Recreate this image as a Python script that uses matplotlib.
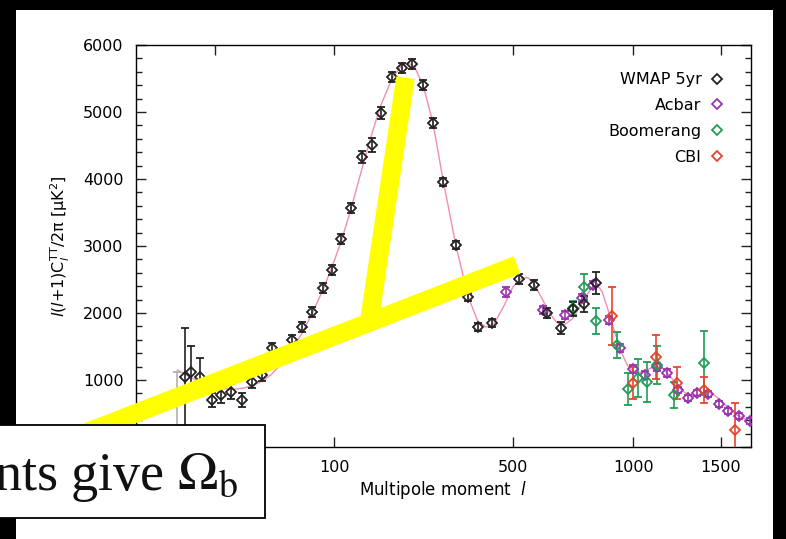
import numpy as np
import matplotlib
matplotlib.use('Agg')
import matplotlib.pyplot as plt
from matplotlib.lines import Line2D
from matplotlib.patches import Rectangle

# WMAP 5yr binned spectrum
ell_wmap = [3, 4, 6, 9, 12, 16, 21, 26, 32, 39, 55, 64, 75, 87, 97, 109, 123, 139,
            155, 170, 190, 209, 229, 253, 275, 299, 332, 364, 391, 433, 520, 572,
            620, 674, 723, 769, 821]
dl_wmap = [1045, 1120, 1045, 702, 776, 826, 702, 975, 1075, 1478, 1598, 1792, 2016,
           2374, 2643, 3105, 3568, 4330, 4509, 4987, 5524, 5658, 5718, 5405, 4837,
           3956, 3016, 2240, 1792, 1851, 2508, 2419, 2001, 1777, 2060, 2135, 2449]
err_wmap_lo = [1045, 388, 284, 105, 115, 110, 105, 100, 90, 80, 80, 80, 80, 80, 80,
               80, 80, 90, 110, 90, 80, 80, 80, 80, 70, 60, 60, 60, 60, 60, 70, 70,
               80, 90, 100, 120, 170]
err_wmap_hi = [732, 388, 284, 105, 115, 110, 105, 100, 90, 80, 80, 80, 80, 80, 80,
               80, 80, 90, 110, 90, 80, 80, 80, 80, 70, 60, 60, 60, 60, 60, 70, 70,
               80, 90, 100, 120, 170]

# quadrupole, shown in grey
ell_quad = [2]
dl_quad = [213]
err_quad_lo = [213]
err_quad_hi = [900]

# ACBAR
ell_acbar = [477, 605, 690, 760, 810, 881, 933, 997, 1058, 1122, 1176, 1238, 1296,
             1350, 1417, 1486, 1544, 1616, 1691]
dl_acbar = [2314, 2045, 1971, 2225, 2419, 1896, 1478, 1165, 1075, 1194, 1105, 851,
            732, 806, 791, 642, 537, 463, 388]
err_acbar = [70, 60, 60, 60, 60, 60, 60, 60, 55, 55, 55, 50, 50, 50, 50, 45, 45,
             45, 45]

# Boomerang
ell_boom = [723, 769, 821, 918, 972, 1022, 1068, 1122, 1215, 1392]
dl_boom = [2075, 2389, 1881, 1523, 866, 1030, 970, 1224, 776, 1254]
err_boom = [100, 200, 190, 200, 240, 280, 300, 290, 190, 480]

# CBI
ell_cbi = [895, 997, 1116, 1232, 1392, 1590]
dl_cbi = [1956, 956, 1344, 956, 851, 254]
err_cbi = [430, 240, 330, 240, 190, 400]

# best-fit LCDM model
ell_model = [2, 3, 4, 5, 6, 8, 10, 13, 17, 22, 27, 33, 39, 47, 55, 64, 75, 87, 97,
             109, 123, 139, 155, 170, 190, 209, 222, 235, 253, 275, 299, 332, 364,
             391, 415, 440, 470, 500, 530, 550, 572, 600, 630, 660, 690, 720, 750,
             780, 810, 830, 850, 880, 910, 940, 970, 1000, 1030, 1060, 1100, 1130,
             1160, 1200, 1240, 1280, 1320, 1360, 1400, 1430, 1460, 1500, 1550, 1600,
             1650, 1700]
dl_model = [1150, 1090, 1040, 1000, 970, 920, 890, 870, 860, 880, 920, 990, 1090,
            1260, 1460, 1690, 2000, 2360, 2670, 3060, 3560, 4150, 4680, 5100, 5500,
            5700, 5730, 5670, 5400, 4850, 4000, 3000, 2250, 1880, 1790, 1840, 2100,
            2390, 2520, 2530, 2440, 2230, 2000, 1850, 1830, 1910, 2080, 2260, 2400,
            2410, 2320, 2020, 1700, 1420, 1220, 1130, 1110, 1140, 1190, 1200, 1160,
            1040, 900, 810, 770, 780, 810, 810, 770, 690, 580, 480, 430, 380]

x_ticks = [10, 100, 500, 1000, 1500]
x_tick_labels = ['', '100', '500', '1000', '1500']   # "10" sits under the caption box
y_ticks = [0, 1000, 2000, 3000, 4000, 5000, 6000]
y_tick_labels = ['', '1000', '2000', '3000', '4000', '5000', '6000']
legend_labels = ['WMAP 5yr', 'Acbar', 'Boomerang', 'CBI']

c_wmap = '#222222'
c_acbar = '#9a35b0'
c_boom = '#1f9e55'
c_cbi = '#e8442c'
c_model = '#f28fae'

W, H = 786, 539


def fig_xy(px, py):
    return px / W, 1 - py / H


def fwd(l):
    l = np.asarray(l, dtype=float)
    return np.sign(l) * np.abs(l) ** 0.4


def inv(x):
    x = np.asarray(x, dtype=float)
    return np.sign(x) * np.abs(x) ** 2.5


plt.rcParams['font.family'] = ['DejaVu Sans']

fig = plt.figure(figsize=(W / 100, H / 100), dpi=100, facecolor='black')

# white slide area
x0, y0 = fig_xy(16, 539)
x1, y1 = fig_xy(773, 10)
fig.patches.append(Rectangle((x0, y0), x1 - x0, y1 - y0, transform=fig.transFigure,
                             facecolor='white', edgecolor='none', zorder=-1))

ax_l, ax_b = fig_xy(136, 447)
ax_r, ax_t = fig_xy(751, 45)
ax = fig.add_axes([ax_l, ax_b, ax_r - ax_l, ax_t - ax_b])
ax.set_xscale('function', functions=(fwd, inv))

ax.plot(ell_model, dl_model, color=c_model, lw=1.0, zorder=1)

eb_kw = dict(fmt='D', ms=5, mfc='none', mew=1.3, elinewidth=1.2, capsize=3,
             capthick=1.2, zorder=3)
ax.errorbar(ell_quad, dl_quad, yerr=[err_quad_lo, err_quad_hi], color='#b0b0b0',
            mec='#b0b0b0', ecolor='#b0b0b0', **eb_kw)
ax.errorbar(ell_acbar, dl_acbar, yerr=err_acbar, color=c_acbar, mec=c_acbar,
            ecolor=c_acbar, **eb_kw)
ax.errorbar(ell_boom, dl_boom, yerr=err_boom, color=c_boom, mec=c_boom,
            ecolor=c_boom, **eb_kw)
ax.errorbar(ell_cbi, dl_cbi, yerr=err_cbi, color=c_cbi, mec=c_cbi,
            ecolor=c_cbi, **eb_kw)
ax.errorbar(ell_wmap, dl_wmap, yerr=[err_wmap_lo, err_wmap_hi], color=c_wmap,
            mec=c_wmap, ecolor=c_wmap, **eb_kw)

ax.set_xlim(0, 1700)
ax.set_ylim(0, 6000)
ax.set_xticks(x_ticks)
ax.set_xticklabels(x_tick_labels)
ax.xaxis.set_minor_locator(matplotlib.ticker.NullLocator())
ax.set_yticks(y_ticks)
ax.set_yticklabels(y_tick_labels)
ax.yaxis.set_minor_locator(matplotlib.ticker.MultipleLocator(200))
ax.tick_params(which='both', direction='in', top=True, right=True, width=1.0,
               labelsize=11.5, color='#222222')
ax.tick_params(which='major', length=7)
ax.tick_params(which='minor', length=4)
ax.tick_params(axis='y', pad=9)
ax.tick_params(axis='x', pad=9)
for s in ax.spines.values():
    s.set_linewidth(1.0)

ax.set_xlabel(r'Multipole moment  $\mathit{l}$', fontsize=12, labelpad=3)
ax.set_ylabel(r'$\mathit{l}(\mathit{l}$+1)C$_{\mathit{l}}^{\mathrm{TT}}$/2π [μK$^2$]',
              fontsize=11.5, labelpad=8)

handles = [Line2D([], [], ls='none', marker='D', ms=5, mfc='none', mew=1.3, mec=c)
           for c in (c_wmap, c_acbar, c_boom, c_cbi)]
ax.legend(handles, legend_labels, loc='upper right', frameon=False,
          markerfirst=False, fontsize=11.5, handlelength=0.8, handletextpad=0.6,
          labelspacing=0.68, borderaxespad=1.3)

# yellow pointer strokes
for (pa, pb) in [((-10, 470), (517, 265)), ((369, 323), (405.5, 77.7))]:
    xa, ya = fig_xy(*pa)
    xb, yb = fig_xy(*pb)
    fig.lines.append(Line2D([xa, xb], [ya, yb], transform=fig.transFigure,
                            color='#ffff00', lw=13.4, solid_capstyle='butt',
                            zorder=5))

# caption box
bx0, by0 = fig_xy(-2, 518)
bx1, by1 = fig_xy(265, 425)
fig.patches.append(Rectangle((bx0, by0), bx1 - bx0, by1 - by0,
                             transform=fig.transFigure, facecolor='white',
                             edgecolor='black', lw=1.3, zorder=6))
tx, ty = fig_xy(238, 490)
fig.text(tx, ty, r'nts give $\Omega_\mathrm{b}$', ha='right', va='baseline',
         fontsize=39, family='Liberation Serif', math_fontfamily='stix',
         color='#111111', zorder=7)

fig.savefig('out.png', dpi=100, facecolor=fig.get_facecolor())
